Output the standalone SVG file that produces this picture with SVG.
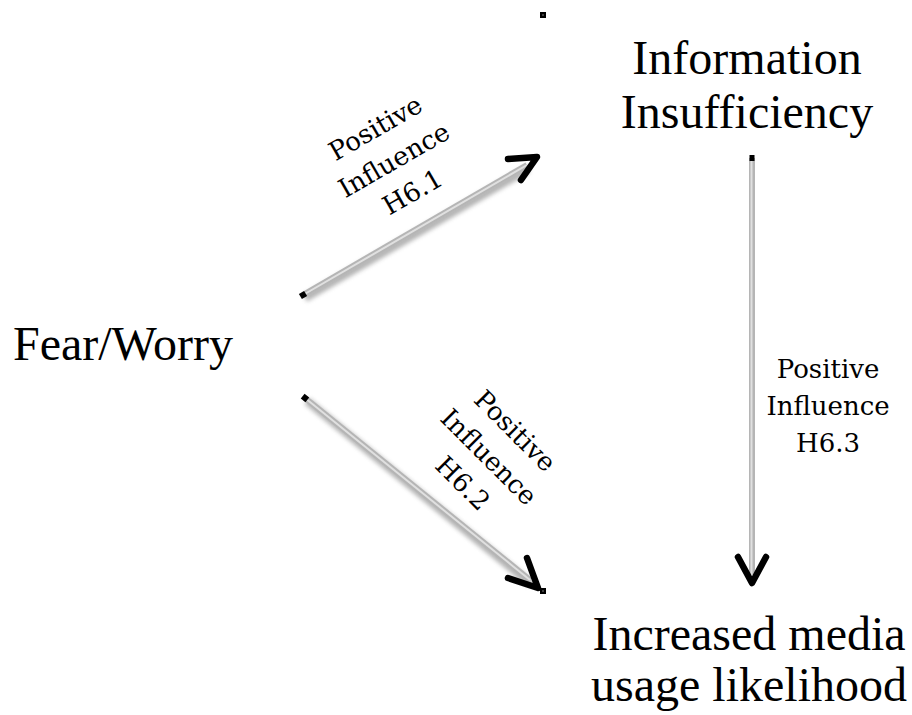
<svg xmlns="http://www.w3.org/2000/svg" width="912" height="715" viewBox="0 0 912 715">
<defs>
<style>
.node{font-family:"Liberation Serif","Times New Roman",serif;font-size:48px;fill:#000;text-anchor:middle}
.lbl{font-family:"DejaVu Serif","Liberation Serif",serif;font-size:26px;fill:#000;text-anchor:middle}
.shadow{stroke:#777;stroke-width:8;fill:none;opacity:0.55;filter:url(#blur)}
.shaft{stroke:#b5b5b5;stroke-width:6;fill:none}
.shine{stroke:#e0e0e0;stroke-width:2;fill:none}
.head{stroke:#000;stroke-width:6.5;fill:none;stroke-linecap:round;stroke-linejoin:round}
.handle{fill:#000}
</style>
<filter id="blur" x="-20%" y="-20%" width="140%" height="140%"><feGaussianBlur stdDeviation="2"/></filter>
</defs>
<rect width="912" height="715" fill="#fff"/>
<g id="connectors">
  <g id="edge-h61">
    <line class="shadow" x1="305" y1="298" x2="528" y2="169"/>
    <line class="shaft" x1="303" y1="295" x2="527" y2="165"/>
    <line class="shine" x1="303" y1="295" x2="527" y2="165"/>
    <rect class="handle" x="300" y="292" width="6" height="6" transform="rotate(-30 303 295)"/>
    <polyline class="head" points="508,159 537,157 521,180"/>
  </g>
  <g id="edge-h62">
    <line class="shadow" x1="307" y1="401" x2="531" y2="584"/>
    <line class="shaft" x1="305" y1="398" x2="530" y2="580"/>
    <line class="shine" x1="305" y1="398" x2="530" y2="580"/>
    <rect class="handle" x="302" y="395" width="6" height="6" transform="rotate(39 305 398)"/>
    <polyline class="head" points="508,578 538,588 527,558"/>
    <rect x="540" y="588" width="6" height="6" fill="#000"/>
    <rect x="542.5" y="590.5" width="1" height="1" fill="#fff"/>
  </g>
  <g id="edge-h63">
    <line class="shadow" x1="754" y1="160" x2="754" y2="575"/>
    <line class="shaft" x1="752" y1="158" x2="752" y2="575"/>
    <line class="shine" x1="751.5" y1="158" x2="751.5" y2="575"/>
    <rect class="handle" x="749.5" y="155" width="5" height="6"/>
    <polyline class="head" points="738,557 752,583 766,557"/>
  </g>
  <g id="handle-top">
    <rect x="540" y="12" width="6" height="6" fill="#000"/>
    <rect x="542.5" y="14.5" width="1" height="1" fill="#fff"/>
  </g>
  <g id="label-h61" transform="translate(394,160) rotate(-30)">
    <text class="lbl" x="0" y="-28">Positive</text>
    <text class="lbl" x="0" y="9">Influence</text>
    <text class="lbl" x="0" y="46">H6.1</text>
  </g>
  <g id="label-h62" transform="translate(489,457) rotate(45)">
    <text class="lbl" x="0" y="-28">Positive</text>
    <text class="lbl" x="0" y="9">Influence</text>
    <text class="lbl" x="0" y="46">H6.2</text>
  </g>
  <g id="label-h63">
    <text class="lbl" x="828" y="378">Positive</text>
    <text class="lbl" x="828" y="415">Influence</text>
    <text class="lbl" x="828" y="452">H6.3</text>
  </g>
</g>
<g id="node-fear">
  <text class="node" x="123" y="360">Fear/Worry</text>
</g>
<g id="node-info">
  <text class="node" x="747" y="74">Information</text>
  <text class="node" x="747" y="128">Insufficiency</text>
</g>
<g id="node-media">
  <text class="node" x="749" y="650">Increased media</text>
  <text class="node" x="749" y="701">usage likelihood</text>
</g>
</svg>
